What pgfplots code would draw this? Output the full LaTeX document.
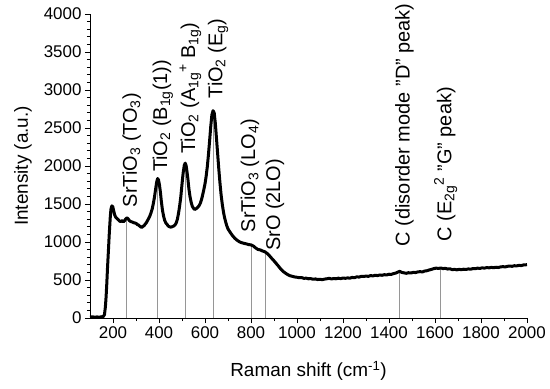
\documentclass[border=0pt]{standalone}
\usepackage{fontspec}
\setmainfont{Liberation Sans}
\usepackage{pgfplots}
\pgfplotsset{compat=1.18}
\definecolor{peakgray}{RGB}{150,150,150}
\begin{document}
\begin{tikzpicture}
\begin{axis}[
  scale only axis, width=437bp, height=304bp,
  xmin=100, xmax=2000, ymin=0, ymax=4000,
  axis lines*=left,
  axis line style={line width=0.8bp, black},
  xtick={200,400,...,2000}, ytick={0,500,...,4000},
  minor x tick num=1, minor y tick num=4,
  tick align=outside,
  major tick length=5bp, minor tick length=3bp,
  tick style={line width=0.8bp, black},
  scaled ticks=false,
  /pgf/number format/1000 sep={},
  /pgf/number format/assume math mode=true,
  ticklabel style={font=\fontsize{17}{19}\selectfont},
  xlabel={Raman shift (cm\textsuperscript{-1})},
  ylabel={Intensity (a.u.)},
  label style={font=\fontsize{19}{21}\selectfont},
  xlabel style={at={(axis description cs:0.5,-0.1414)}, anchor=north, inner sep=0pt},
  ylabel style={at={(axis description cs:-0.133,0.5)}, anchor=south, inner sep=0pt},
  clip=false,
]
\coordinate (O) at (rel axis cs:0,0);
% vertical peak markers
\addplot[ycomb, peakgray, line width=1bp, mark=none] coordinates {
(260,1300) (395,1830) (515,2030) (635,2720) (800,960) (865,860) (1445,610) (1625,655)};
% spectrum
\addplot[black, line width=3bp, mark=none, line join=round] coordinates {
(100,12) (110,16) (120,10) (130,14) (140,11) (150,16) (158,20) (163,45)
(167,150) (170,280) (173,450) (176,650) (180,880) (184,1120) (188,1320) (191,1430)
(195,1475) (199,1465) (203,1410) (207,1360) (211,1330) (215,1315) (220,1300)
(225,1288) (230,1272) (235,1270) (240,1282) (245,1266) (250,1280) (255,1302)
(260,1318) (265,1308) (270,1286) (275,1272) (280,1266) (285,1262) (290,1254)
(295,1250) (300,1246) (305,1230) (310,1226) (315,1212) (320,1200) (325,1192)
(330,1206) (335,1214) (340,1236) (345,1254) (350,1282) (355,1310) (360,1340)
(365,1382) (370,1430) (375,1500) (380,1585) (385,1690) (390,1790) (394,1835)
(398,1815) (402,1750) (406,1660) (410,1540) (415,1420) (420,1340) (425,1282)
(430,1250) (435,1232) (440,1210) (445,1202) (450,1196) (455,1198) (460,1205)
(465,1212) (470,1226) (475,1252) (480,1300) (485,1380) (490,1480) (495,1600)
(500,1760) (505,1910) (510,2010) (514,2038) (518,2005) (522,1920) (526,1820)
(530,1700) (535,1595) (540,1520) (545,1468) (550,1444) (555,1428) (560,1436)
(565,1446) (570,1462) (575,1482) (580,1512) (585,1560) (590,1622) (595,1690)
(600,1765) (605,1865) (610,1990) (615,2150) (620,2330) (625,2520) (630,2675)
(635,2728) (640,2700) (645,2560) (650,2360) (655,2160) (660,1960) (665,1780)
(670,1620) (675,1500) (680,1400) (685,1322) (690,1262) (695,1212) (700,1172)
(710,1125) (720,1082) (730,1048) (740,1022) (750,1002) (760,990) (770,982)
(780,975) (790,966) (800,962) (810,948) (820,922) (830,902) (840,896)
(850,882) (860,872) (870,850) (880,820) (890,785) (900,752) (910,716)
(920,680) (930,642) (940,612) (950,590) (960,570) (970,556) (980,548)
(990,540) (1000,536) (1010,530) (1020,532) (1030,522) (1040,524) (1050,516)
(1060,518) (1070,510) (1080,514) (1090,506) (1100,510) (1110,504) (1120,512)
(1130,516) (1140,522) (1150,514) (1160,520) (1170,516) (1180,524) (1190,518)
(1200,526) (1210,522) (1220,528) (1230,524) (1240,534) (1250,530) (1260,542)
(1270,538) (1280,548) (1290,546) (1300,552) (1310,548) (1320,558) (1330,554)
(1340,562) (1350,558) (1360,566) (1370,562) (1380,570) (1390,566) (1400,576)
(1410,574) (1420,584) (1430,592) (1440,606) (1447,614) (1455,600) (1465,594)
(1475,588) (1485,596) (1495,592) (1505,600) (1515,598) (1525,606) (1535,610)
(1545,606) (1555,618) (1565,622) (1575,632) (1585,640) (1595,650) (1605,656)
(1615,652) (1625,658) (1635,650) (1645,654) (1655,644) (1665,648) (1675,636)
(1685,640) (1695,634) (1705,640) (1715,636) (1725,642) (1735,638) (1745,646)
(1755,642) (1765,650) (1775,648) (1785,656) (1795,652) (1805,660) (1815,656)
(1825,664) (1835,660) (1845,666) (1855,662) (1865,668) (1875,664) (1885,672)
(1895,676) (1905,672) (1915,680) (1925,684) (1935,680) (1945,688) (1955,686)
(1965,692) (1975,690) (1985,698) (1995,700) (2000,702)};
% labels
\begin{scope}[every node/.style={rotate=90, anchor=west, inner sep=0pt, font=\fontsize{20}{22}\selectfont}]
\node at ([xshift=5bp]axis cs:260,1457) {SrTiO\textsubscript{3} (TO\textsubscript{3})};
\node at ([xshift=5bp]axis cs:395,1920) {TiO\textsubscript{2} (B\textsubscript{1g}(1))};
\node at ([xshift=5bp]axis cs:515,2159) {TiO\textsubscript{2} (A\textsubscript{1g}\textsuperscript{+} B\textsubscript{1g})};
\node at ([xshift=5bp]axis cs:635,2887) {TiO\textsubscript{2} (E\textsubscript{g})};
\node at ([xshift=-1bp]axis cs:800,1126) {SrTiO\textsubscript{3} (LO\textsubscript{4})};
\node at ([xshift=9bp]axis cs:865,880) {SrO (2LO)};
\node at ([xshift=5bp]axis cs:1445,944) {C (disorder mode "D" peak)};
\node at ([xshift=5bp]axis cs:1625,1010) {C (E\textsubscript{2g}\textsuperscript{2} "G" peak)};
\end{scope}
\end{axis}
\pgfresetboundingbox
\path[use as bounding box] ([shift={(-90bp,-71bp)}]O) rectangle ([shift={(460bp,318bp)}]O);
\end{tikzpicture}
\end{document}
